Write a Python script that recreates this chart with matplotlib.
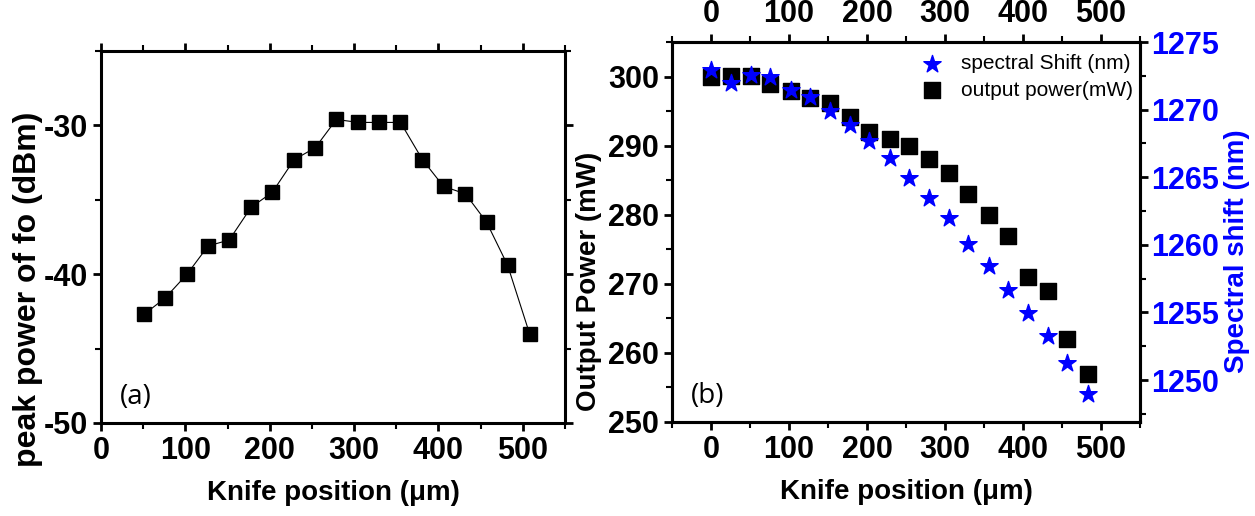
import matplotlib
matplotlib.use("Agg")
import matplotlib.pyplot as plt
from matplotlib.ticker import MultipleLocator

plt.rcParams['font.family'] = ['Liberation Sans', 'DejaVu Sans']
plt.rcParams['axes.unicode_minus'] = False

# (a) peak power of fundamental vs knife position
knife_a = [51, 76, 102, 127, 152, 178, 203, 229, 254, 279,
           305, 330, 355, 381, 406, 432, 457, 482, 508]
peak_dbm = [-42.7, -41.6, -40.0, -38.1, -37.7, -35.5, -34.5, -32.3, -31.5, -29.6,
            -29.8, -29.8, -29.8, -32.3, -34.1, -34.6, -36.5, -39.4, -44.0]

# (b) output power and spectral shift vs knife position
knife_b = [0, 25, 51, 76, 102, 127, 152, 178, 203, 229,
           254, 279, 305, 330, 356, 381, 406, 432, 457, 483]
out_power = [300.0, 300.1, 300.1, 298.9, 297.9, 296.9, 296.1, 294.1, 292.0, 291.0,
             290.0, 288.0, 286.0, 283.0, 280.0, 276.9, 271.0, 269.0, 262.0, 257.0]
spec_shift = [1272.95, 1271.97, 1272.56, 1272.44, 1271.45, 1270.91, 1269.93, 1268.89, 1267.71, 1266.44,
              1264.93, 1263.43, 1262.01, 1260.04, 1258.46, 1256.69, 1254.94, 1253.25, 1251.23, 1248.95]

fs = 20
tfs = 22
W, H = 1255, 516
fig = plt.figure(figsize=(W/100, H/100), dpi=100)


def style(ax):
    for s in ax.spines.values():
        s.set_linewidth(2.2)
    ax.tick_params(which='major', direction='out', length=6, width=2, labelsize=tfs)
    ax.tick_params(which='minor', direction='out', length=4, width=1.5)
    for lab in ax.get_xticklabels() + ax.get_yticklabels():
        lab.set_fontweight('bold')


# panel (a)
ax1 = fig.add_axes([101/W, 1-423/H, (565-101)/W, (423-51)/H])
ax1.plot(knife_a, peak_dbm, '-', color='black', lw=0.8, marker='s', ms=10.5, mec='black', mfc='black')
ax1.set_xlim(0, 550)
ax1.set_ylim(-50, -25)
ax1.xaxis.set_major_locator(MultipleLocator(100))
ax1.xaxis.set_minor_locator(MultipleLocator(50))
ax1.yaxis.set_major_locator(MultipleLocator(10))
ax1.yaxis.set_minor_locator(MultipleLocator(5))
ax1.tick_params(which='both', top=True, right=True)
style(ax1)
ax1.set_xlabel('Knife position (μm)', fontsize=fs, fontweight='bold', labelpad=10)
ax1.set_ylabel('peak power of fo (dBm)', fontsize=23, fontweight='bold')
ax1.yaxis.set_label_coords(-0.125, 0.36)
ax1.text(0.04, 0.05, '(a)', transform=ax1.transAxes, fontsize=fs, family='Open Sans')

# panel (b)
ax2 = fig.add_axes([672/W, 1-422/H, (1140-672)/W, (422-42)/H])
ax2.scatter(knife_b, out_power, marker='s', s=130, color='black', zorder=2, label='output power(mW)')
ax2.set_xlim(-50, 550)
ax2.set_ylim(250, 305)
ax2.xaxis.set_major_locator(MultipleLocator(100))
ax2.xaxis.set_minor_locator(MultipleLocator(50))
ax2.yaxis.set_major_locator(MultipleLocator(10))
ax2.yaxis.set_minor_locator(MultipleLocator(5))
ax2.tick_params(which='both', top=True, labeltop=True)
style(ax2)
ax2.set_xlabel('Knife position (μm)', fontsize=fs, fontweight='bold', labelpad=10)
ax2.set_ylabel('Output Power (mW)', fontsize=fs, fontweight='bold')
ax2.yaxis.set_label_coords(-0.15, 0.37)
ax2.text(0.04, 0.05, '(b)', transform=ax2.transAxes, fontsize=fs, family='Open Sans')

ax3 = ax2.twinx()
ax3.scatter(knife_b, spec_shift, marker='*', s=170, color='blue', zorder=3, label='spectral Shift (nm)')
ax3.set_ylim(1246.9, 1275)
ax3.yaxis.set_major_locator(MultipleLocator(5))
ax3.yaxis.set_minor_locator(MultipleLocator(2.5))
style(ax3)
ax3.tick_params(axis='y', colors='black', labelcolor='blue', pad=2)
ax3.set_ylabel('Spectral shift (nm)', fontsize=fs, fontweight='bold', color='blue')
ax3.yaxis.set_label_coords(1.18, 0.45)

h3, l3 = ax3.get_legend_handles_labels()
h2, l2 = ax2.get_legend_handles_labels()
leg = ax3.legend(h3 + h2, l3 + l2, loc='upper right', bbox_to_anchor=(1.012, 1.0),
                 frameon=False, fontsize=15, handletextpad=0.4, borderaxespad=0.3,
                 borderpad=0.3, labelspacing=0.35)

fig.savefig('out.png', dpi=100)
